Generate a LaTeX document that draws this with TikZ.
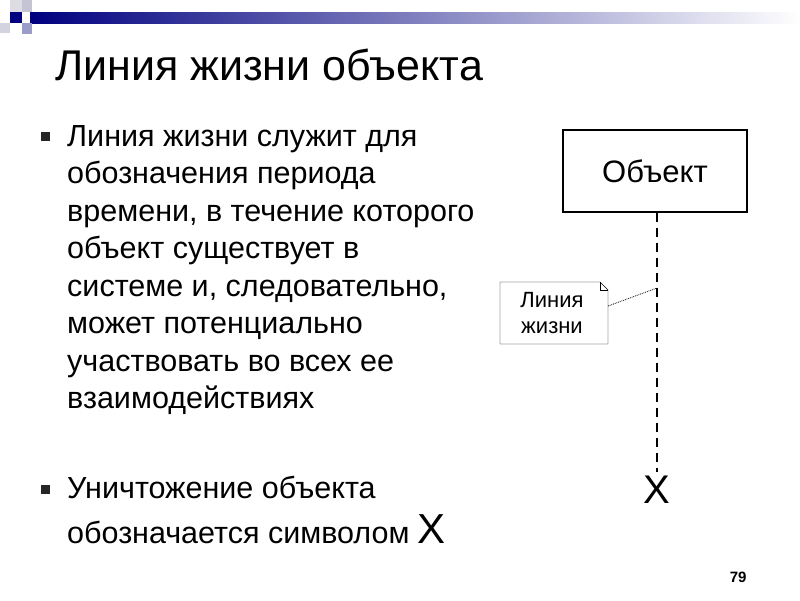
\documentclass[tikz,border=0pt]{standalone}
\usepackage{fontspec}
\setmainfont{Liberation Sans}
\begin{document}
\begin{tikzpicture}[x=1pt,y=-1pt,
 body/.style={anchor=base west,font=\fontsize{30.5}{36}\selectfont,inner sep=0},
 bul/.style={fill=black!85,minimum size=9pt,inner sep=0}]
\useasboundingbox (0,0) rectangle (800,600);
\fill[white] (0,0) rectangle (800,600);
\shade[left color=blue!50!black,right color=white] (30,12) rectangle (800,23);
\fill[blue!50!black] (10,12) rectangle (22,23);
\fill[blue!15!gray!40] (22,0) rectangle (32,12);
\fill[blue!15!gray!30] (0,23) rectangle (10,33);
\fill[blue!30!gray!60] (22,23) rectangle (32,34);
\fill[blue!10!gray!25] (10,0) rectangle (22,12);
\node[anchor=base west,font=\fontsize{43}{50}\selectfont,inner sep=0] (t) at (55,80) {Линия жизни объекта};
\node[bul] (b1) at (45,136) {};
\foreach \i/\s in {0/{Линия жизни служит для},1/{обозначения периода},2/{времени, в течение которого},3/{объект существует в},4/{системе и, следовательно,},5/{может потенциально},6/{участвовать во всех ее},7/{взаимодействиях}}
 \node[body] (l\i) at (67,146+37.5*\i) {\s};
\node[bul] (b2) at (45,489) {};
\node[body] (m0) at (67,498) {Уничтожение объекта};
\node[body] (m1) at (67,543) {обозначается символом {\fontsize{42}{44}\selectfont X}};
\node[draw,line width=1.3pt,minimum width=184pt,minimum height=82pt,font=\fontsize{31}{36}\selectfont] (obj) at (655,171) {Объект};
\node[font=\fontsize{40}{44}\selectfont,inner sep=0] (x) at (657,490) {X};
\coordinate (lt) at (657,472);
\draw[line width=1.5pt,dash pattern=on 9pt off 6pt] (obj.south -| lt) -- (lt);
\draw[fill=white] (500,282) -- (600,282) -- (608,290) -- (608,344) -- (500,344) -- cycle;
\draw (600,282) -- (600,290) -- (608,290);
\node[align=center,font=\fontsize{22}{26}\selectfont] (note) at (552,313) {Линия\\жизни};
\coordinate (np) at (608,306);
\coordinate (lp) at (657,288);
\draw[densely dotted,thick] (np) -- (lp);
\node[anchor=base east,font=\bfseries\fontsize{15}{18}\selectfont] (pg) at (750,582) {79};
\end{tikzpicture}
\end{document}
